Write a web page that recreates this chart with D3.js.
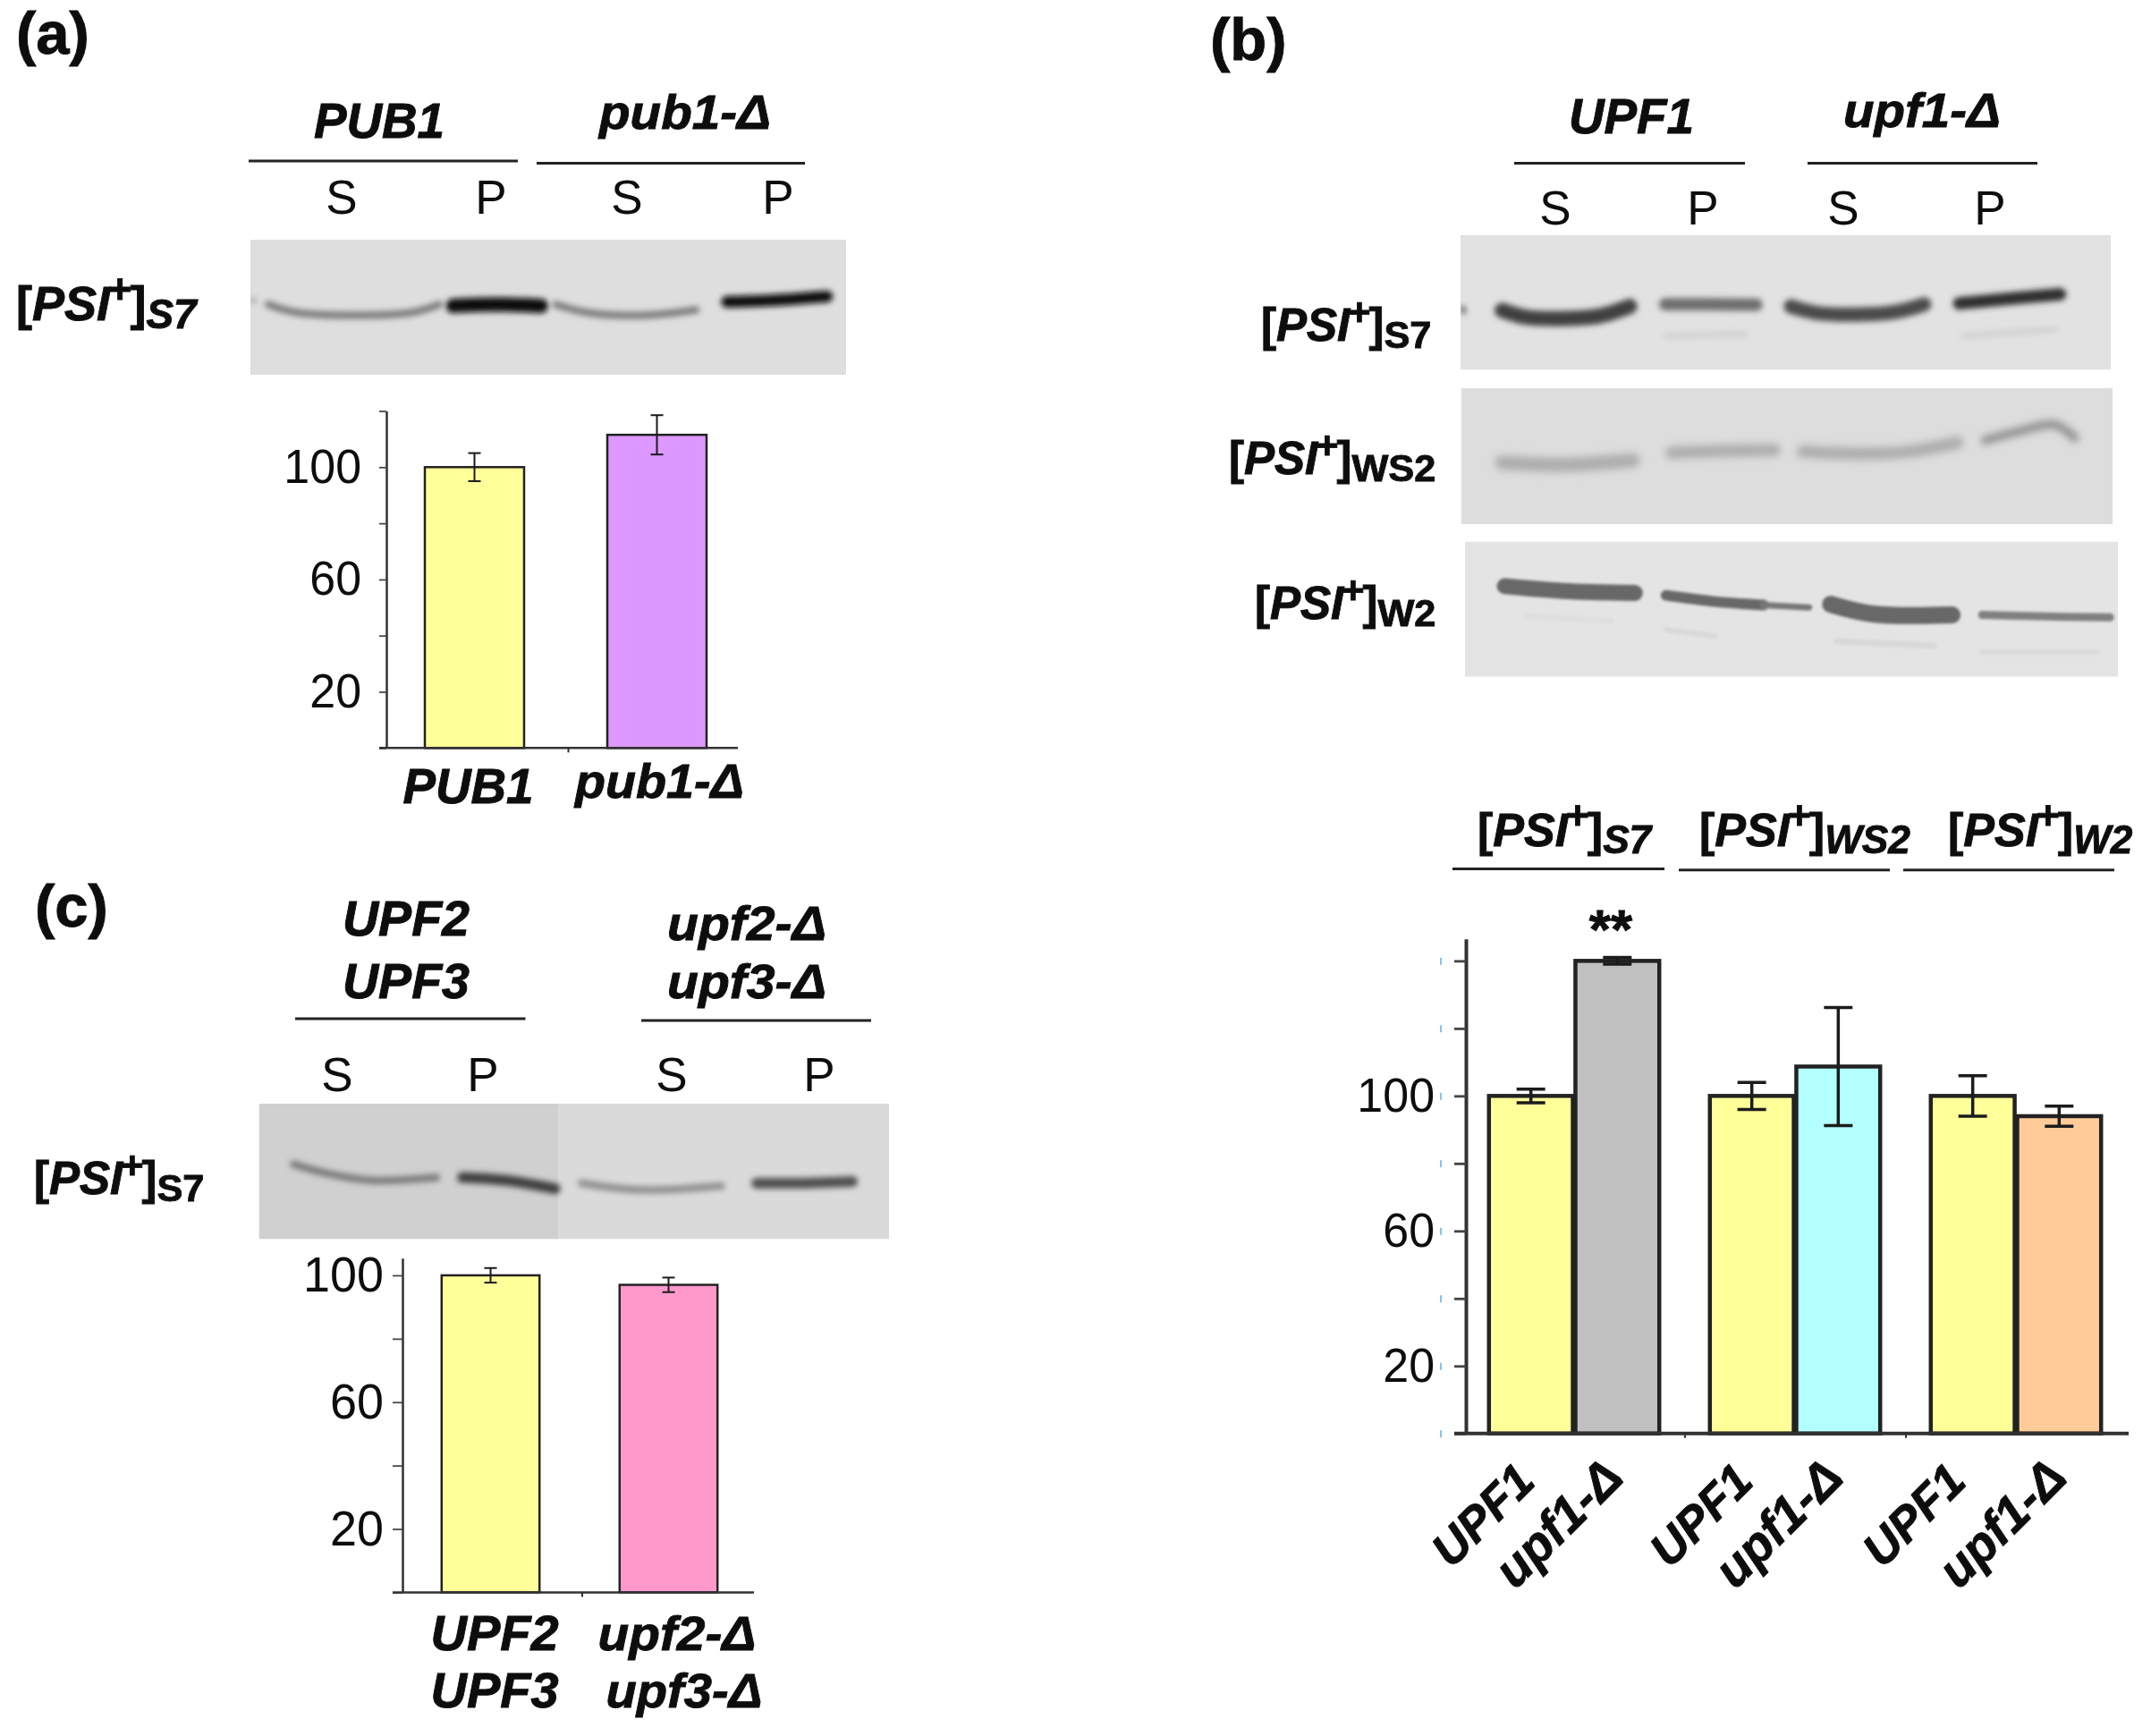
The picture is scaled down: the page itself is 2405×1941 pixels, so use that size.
<!DOCTYPE html>
<html>
<head>
<meta charset="utf-8">
<script src="https://cdn.jsdelivr.net/npm/d3@7"></script>
<style>
  html, body { margin: 0; padding: 0; background: #fff; }
  svg { display: block; }
  text { font-family: "Liberation Sans", Arial, sans-serif; fill: #0a0a0a; }
</style>
</head>
<body>
<script>
// panel (a)
const catsA = ["PUB1", "pub1-Δ"];
const valsA = [100, 111.5];
const errsA = [5, 7];
const colorsA = ["#ffff99", "#dd99ff"];

// panel (b)
const groupsB = ["S7", "WS2", "W2"];
const catsB = ["UPF1", "upf1-Δ"];
const valsB = [[100, 140], [100, 108.7], [100, 94]];
const errsB = [[2, 1], [4, 17.5], [6, 3]];
const colorsB = [["#ffff99", "#c0c0c0"], ["#ffff99", "#b3ffff"], ["#ffff99", "#ffcc99"]];

// panel (c)
const catsC = ["UPF2 UPF3", "upf2-Δ upf3-Δ"];
const valsC = [100, 97];
const errsC = [2.3, 2.3];
const colorsC = ["#ffff99", "#ff99cc"];

const labelledTicks = [20, 60, 100];

// blot bands, u/v are percent of the blot box: [points, width, grey]
const bandsA = [
  [[[3,48],[7.8,54],[17.4,56],[27,54],[31.7,48]], 8, "#7a7a7a"],
  [[[34,49],[41.6,48],[48.8,49]], 16, "#0c0c0c"],
  [[[51.3,48],[56.6,54],[66,56],[74.8,52]], 8, "#7a7a7a"],
  [[[80,46],[87,45],[96.8,42]], 13, "#0c0c0c"],
  [[[0.4,44],[0.6,46]], 3, "#666"]
];
const bandsB1 = [
  [[[6.4,56],[10.1,61],[15.8,62],[21.4,60],[26,53]], 17, "#404040"],
  [[[31.5,51.5],[38.2,51.5],[45.5,51.8]], 14, "#6e6e6e"],
  [[[50.8,53],[55,58],[61.6,59],[67,57],[71.3,51.5]], 16, "#4c4c4c"],
  [[[76.7,50.8],[84,47.5],[92.2,44]], 14, "#2e2e2e"],
  [[[31.7,75],[43.8,73.6]], 7, "#d2d2d2"],
  [[[77.4,75],[91.4,70]], 7, "#d2d2d2"],
  [[[0.3,54],[0.5,57]], 5, "#555"]
];
const bandsB2 = [
  [[[6.3,54.8],[15.7,56.4],[26.4,53.1]], 16, "#adadad"],
  [[[32.3,47.5],[39.9,46.2],[48.1,45.6]], 14, "#adadad"],
  [[[52.5,46.6],[60.4,48.2],[68.8,46.6],[76.2,40]], 14, "#adadad"],
  [[[80.4,38.4],[85.6,31.8],[91.2,26.9],[94.2,36.7]], 9, "#8c8c8c"]
];
const bandsB3 = [
  [[[6.1,33],[15,36.5],[26,38]], 18, "#686868"],
  [[[30.8,39.8],[38.3,44.4],[45.7,47]], 12, "#686868"],
  [[[45.7,47],[52.7,48.7]], 7, "#777"],
  [[[56,46.4],[62.5,53.6],[74.6,54.3]], 19, "#686868"],
  [[[79.2,54.3],[87.6,55.3],[98.8,56]], 9, "#808080"],
  [[[30.8,65.1],[38.3,70]], 6, "#d8d8d8"],
  [[[56.9,73.7],[71.8,77]], 7, "#d8d8d8"],
  [[[79.2,81.9],[96.8,81.9]], 7, "#dcdcdc"],
  [[[9.4,55],[22.4,58.9]], 6, "#dedede"]
];
const bandsC = [
  [[[5.5,44.6],[10.6,51.2],[18,56.6],[28.2,54.5]], 8, "#787878"],
  [[[32.3,54.5],[39.2,56.6],[47,62.8]], 12, "#404040"],
  [[[51.2,58.7],[60.5,63.6],[73.4,60.7]], 8, "#8c8c8c"],
  [[[79,58.7],[86.3,58.7],[94.2,57.4]], 12, "#505050"]
];

const width = 2405, height = 1941;
const svg = d3.select("body").append("svg").attr("width", width).attr("height", height);
const defs = svg.append("defs");
const soft = defs.append("filter").attr("id", "soft").attr("x", "-2%").attr("y", "-2%").attr("width", "104%").attr("height", "104%");
soft.append("feGaussianBlur").attr("stdDeviation", 0.7);

function blurFilter(id, sd) {
  defs.append("filter").attr("id", id).attr("filterUnits", "userSpaceOnUse")
    .attr("x", 0).attr("y", 0).attr("width", width).attr("height", height)
    .append("feGaussianBlur").attr("stdDeviation", sd);
}
blurFilter("bandBlur", 3);
blurFilter("bandBlurWide", 4.2);
blurFilter("bandBlurTight", 1.6);

svg.append("rect").attr("width", width).attr("height", height).attr("fill", "#fff");
const root = svg.append("g").attr("filter", "url(#soft)");

function txt(x, y, s, size, o = {}) {
  const t = root.append("text").attr("x", x).attr("y", y).text(s)
    .style("font-size", size + "px")
    .attr("text-anchor", o.anchor || "middle");
  if (o.bold) t.style("font-weight", "bold").style("stroke", "#0a0a0a").style("stroke-width", 0.9);
  if (o.italic) t.style("font-style", "italic");
  if (o.len) t.attr("textLength", o.len).attr("lengthAdjust", "spacingAndGlyphs");
  return t;
}

function rule(x1, x2, y) {
  root.append("line").attr("x1", x1).attr("x2", x2).attr("y1", y).attr("y2", y)
    .attr("stroke", "#222").attr("stroke-width", 3);
}

function psiLabel(x, y, sub, subItalic, size) {
  const t = root.append("text").attr("x", x).attr("y", y)
    .style("font-size", size + "px").style("font-weight", "bold")
    .style("stroke", "#0a0a0a").style("stroke-width", 0.9);
  t.append("tspan").text("[");
  t.append("tspan").style("font-style", "italic").text("PSI");
  t.append("tspan").attr("dy", -0.36 * size).attr("dx", -0.04 * size).style("font-size", 0.85 * size + "px").text("+");
  t.append("tspan").attr("dy", 0.36 * size).attr("dx", -0.04 * size).text("]");
  t.append("tspan").attr("dy", 0.16 * size).style("font-size", 0.85 * size + "px")
    .style("font-style", subItalic ? "italic" : "normal").text(sub);
}

function blot(box, bg, bands, blur = "bandBlur") {
  const u = d3.scaleLinear().domain([0, 100]).range([box.x, box.x + box.w]);
  const v = d3.scaleLinear().domain([0, 100]).range([box.y, box.y + box.h]);
  const id = "clip" + Math.round(box.x) + Math.round(box.y);
  defs.append("clipPath").attr("id", id).append("rect")
    .attr("x", box.x).attr("y", box.y).attr("width", box.w).attr("height", box.h);
  const g = root.append("g").attr("clip-path", "url(#" + id + ")");
  g.selectAll("rect.bg").data(bg).join("rect").attr("class", "bg")
    .attr("x", d => u(d[0])).attr("width", d => u(d[1]) - u(d[0]))
    .attr("y", box.y).attr("height", box.h).attr("fill", d => d[2]);
  const line = d3.line().x(d => u(d[0])).y(d => v(d[1])).curve(d3.curveCatmullRom);
  g.append("g").attr("filter", "url(#" + blur + ")")
    .selectAll("path").data(bands).join("path")
    .attr("d", d => line(d[0]))
    .attr("fill", "none")
    .attr("stroke-linecap", "round")
    .attr("stroke-width", d => d[1])
    .attr("stroke", d => d[2]);
}

function yAxis(o) {
  const y = d3.scaleLinear().domain([0, o.top]).range([o.base, o.topY]);
  const axis = d3.axisLeft(y)
    .tickValues(d3.range(0, o.top + 0.1, 20))
    .tickSize(o.tick).tickSizeOuter(0).tickPadding(o.pad)
    .tickFormat(d => labelledTicks.includes(d) ? d : "");
  const g = root.append("g").attr("transform", "translate(" + o.x + ",0)").call(axis);
  g.selectAll("path.domain").attr("stroke", "#333").attr("stroke-width", o.sw);
  g.selectAll(".tick line").attr("stroke", "#444").attr("stroke-width", o.sw * 0.7);
  g.selectAll(".tick text").style("font-size", o.font + "px")
    .filter(d => labelledTicks.includes(d))
    .attr("textLength", d => String(d).length * 0.556 * o.font * 0.98)
    .attr("lengthAdjust", "spacingAndGlyphs");
  return y;
}

function xAxisLine(o, edge) {
  const axis = d3.axisBottom(edge).tickValues(d3.range(1, edge.domain()[1]))
    .tickSize(5).tickSizeOuter(0).tickFormat("");
  const g = root.append("g").attr("transform", "translate(0," + o.base + ")").call(axis);
  g.select("path.domain").remove();
  g.selectAll(".tick line").attr("stroke", "#333").attr("stroke-width", 2);
  root.append("line").attr("x1", o.x - o.tick).attr("x2", o.end)
    .attr("y1", o.base).attr("y2", o.base)
    .attr("stroke", "#333").attr("stroke-width", o.sw);
}

function bars(y, base, xf, w, vals, errs, colors, o) {
  root.selectAll(null).data(vals).join("rect")
    .attr("x", (d, i) => xf(i)).attr("width", w)
    .attr("y", d => y(d)).attr("height", d => base - y(d))
    .attr("fill", (d, i) => colors[i])
    .attr("stroke", "#222").attr("stroke-width", o.sw);
  const eb = root.selectAll(null).data(vals).join("g")
    .attr("stroke", "#1a1a1a").attr("stroke-width", o.esw);
  eb.append("line").attr("x1", (d, i) => xf(i) + w / 2).attr("x2", (d, i) => xf(i) + w / 2)
    .attr("y1", (d, i) => y(d + errs[i])).attr("y2", (d, i) => y(d - errs[i]));
  [1, -1].forEach(s => {
    eb.append("line").attr("x1", (d, i) => xf(i) + w / 2 - o.cap).attr("x2", (d, i) => xf(i) + w / 2 + o.cap)
      .attr("y1", (d, i) => y(d + s * errs[i])).attr("y2", (d, i) => y(d + s * errs[i]));
  });
}

// ---- (a) ----
txt(18, 60, "(a)", 67, { anchor: "start", bold: true });
txt(424, 154, "PUB1", 55, { bold: true, italic: true, len: 146 });
txt(766, 144, "pub1-Δ", 54, { bold: true, italic: true, len: 192 });
rule(278, 579, 180);
rule(600, 900, 182.5);
[["S", 382], ["P", 549], ["S", 701], ["P", 870]].forEach(d => txt(d[1], 239, d[0], 53));
psiLabel(18, 358, "S7", true, 54);
blot({ x: 280, y: 268, w: 666, h: 151 }, [[0, 100, "#dedede"]], bandsA);

const optsA = { x: 432, base: 836.3, topY: 459.5, top: 120, tick: 8, pad: 20, font: 53, sw: 2.5, end: 825 };
const yA = yAxis(optsA);
const xA = d3.scaleBand().domain(catsA).range([428.5, 836.5]).paddingInner(0.456).paddingOuter(0.228);
bars(yA, optsA.base, i => xA(catsA[i]), xA.bandwidth(), valsA, errsA, colorsA, { sw: 2.5, esw: 2, cap: 7 });
xAxisLine(optsA, d3.scaleLinear().domain([0, 2]).range([432, 838]));
txt(xA(catsA[0]) + xA.bandwidth() / 2 - 7, 898, catsA[0], 55, { bold: true, italic: true, len: 146 });
txt(xA(catsA[1]) + xA.bandwidth() / 2 + 3, 892, catsA[1], 54, { bold: true, italic: true, len: 189 });

// ---- (b) ----
txt(1353, 67, "(b)", 67, { anchor: "start", bold: true });
txt(1824, 149, "UPF1", 55, { bold: true, italic: true, len: 140 });
txt(2149, 142, "upf1-Δ", 54, { bold: true, italic: true, len: 176 });
rule(1693, 1951, 182.6);
rule(2021, 2278, 182.6);
[["S", 1739], ["P", 1904], ["S", 2061], ["P", 2225]].forEach(d => txt(d[1], 251, d[0], 53));
psiLabel(1410, 381, "S7", false, 51);
psiLabel(1374, 530, "WS2", false, 51);
psiLabel(1403, 692, "W2", false, 51);
blot({ x: 1633, y: 262.7, w: 727, h: 150.7 }, [[0, 100, "#e2e2e2"]], bandsB1);
blot({ x: 1633.5, y: 434, w: 728.5, h: 152 }, [[0, 100, "#dddddd"]], bandsB2, "bandBlurWide");
blot({ x: 1638, y: 605.5, w: 730, h: 151.2 }, [[0, 100, "#e4e4e4"]], bandsB3, "bandBlurTight");

psiLabel(1652, 946, "S7", true, 52);
psiLabel(1900, 946, "WS2", true, 52);
psiLabel(2178, 946, "W2", true, 52);
rule(1624, 1861, 971.5);
rule(1877, 2113, 972.7);
rule(2128, 2364, 972.7);
txt(1801, 1060, "**", 62, { bold: true });

const optsB = { x: 1639, base: 1602.8, topY: 1049.8, top: 146.5, tick: 13, pad: 22, font: 53, sw: 4, end: 2380 };
const yB = yAxis(optsB);
// the small blue tick marks left of the axis
const blueTicks = root.append("g").attr("transform", "translate(1612,0)")
  .call(d3.axisLeft(yB).tickValues(d3.range(0, 141, 20)).tickSize(2).tickSizeOuter(0).tickFormat(""));
blueTicks.select("path.domain").remove();
blueTicks.selectAll(".tick line").attr("stroke", "#86c2f2").attr("stroke-width", 8);

const x0B = d3.scaleBand().domain(groupsB).range([1636.5, 2377.5]).paddingInner(0.229).paddingOuter(0.1145);
const x1B = d3.scaleBand().domain(catsB).range([0, x0B.bandwidth()]).paddingInner(0.03);
groupsB.forEach((g, gi) => {
  bars(yB, optsB.base, i => x0B(g) + x1B(catsB[i]), x1B.bandwidth(), valsB[gi], errsB[gi], colorsB[gi], { sw: 4.5, esw: 3.5, cap: 16 });
});
xAxisLine(optsB, d3.scaleLinear().domain([0, 3]).range([1636.5, 2377.5]));
const labelDxB = [[7, 9], [4, 8], [-5, 11]];
groupsB.forEach((g, gi) => {
  catsB.forEach((c, ci) => {
    const ex = x0B(g) + x1B(c) + x1B.bandwidth() / 2 + labelDxB[gi][ci];
    const ey = ci === 0 ? 1659 : 1655;
    txt(0, 0, c, ci === 0 ? 53 : 56, { anchor: "end", bold: true, italic: true })
      .attr("transform", "translate(" + ex + "," + ey + ") rotate(-45)");
  });
});

// ---- (c) ----
txt(39, 1036, "(c)", 67, { anchor: "start", bold: true });
txt(454, 1046, "UPF2", 55, { bold: true, italic: true, len: 142 });
txt(454, 1116, "UPF3", 55, { bold: true, italic: true, len: 142 });
txt(835, 1051, "upf2-Δ", 54, { bold: true, italic: true, len: 178 });
txt(835, 1116, "upf3-Δ", 54, { bold: true, italic: true, len: 178 });
rule(330, 587.5, 1139);
rule(717, 974, 1141);
[["S", 377], ["P", 540], ["S", 751], ["P", 916]].forEach(d => txt(d[1], 1220, d[0], 53));
psiLabel(38, 1335, "S7", false, 51);
blot({ x: 289.5, y: 1234, w: 704.5, h: 151.5 }, [[0, 47.5, "#d0d0d0"], [47.5, 100, "#dadada"]], bandsC);

const optsC = { x: 450, base: 1780.4, topY: 1406.8, top: 105.4, tick: 11, pad: 10, font: 55, sw: 2.5, end: 843 };
const yC = yAxis(optsC);
const xC = d3.scaleBand().domain(catsC).range([449, 847]).paddingInner(0.45).paddingOuter(0.225);
bars(yC, optsC.base, i => xC(catsC[i]), xC.bandwidth(), valsC, errsC, colorsC, { sw: 2.5, esw: 2, cap: 7 });
xAxisLine(optsC, d3.scaleLinear().domain([0, 2]).range([450, 851]));
txt(553, 1845, "UPF2", 55, { bold: true, italic: true, len: 143 });
txt(553, 1909, "UPF3", 55, { bold: true, italic: true, len: 143 });
txt(757, 1845, "upf2-Δ", 54, { bold: true, italic: true, len: 177 });
txt(765, 1909, "upf3-Δ", 54, { bold: true, italic: true, len: 175 });
</script>
</body>
</html>
